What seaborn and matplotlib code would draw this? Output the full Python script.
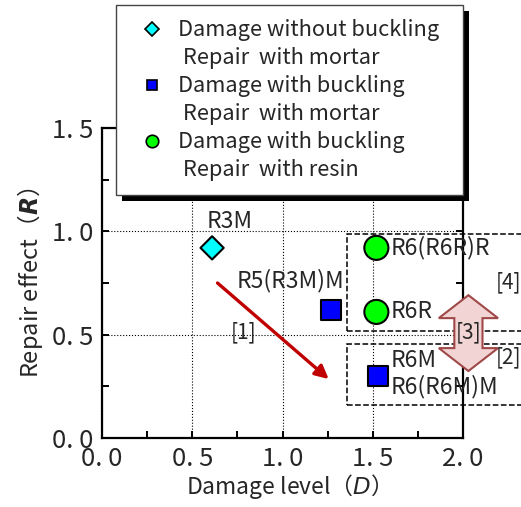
import pandas as pd
import seaborn as sns
import matplotlib.pyplot as plt
import matplotlib.patheffects as pe
from matplotlib.lines import Line2D
from matplotlib.patches import Rectangle, Polygon
from matplotlib.ticker import MultipleLocator

# measured points
damage = [0.61, 1.27, 1.53, 1.52, 1.52]
repair = [0.92, 0.62, 0.30, 0.92, 0.61]
groups = ['wo_buckling_mortar', 'buckling_mortar', 'buckling_mortar',
          'buckling_resin', 'buckling_resin']

group_order = ['wo_buckling_mortar', 'buckling_mortar', 'buckling_resin']
legend_line1 = ['Damage without buckling', 'Damage with buckling', 'Damage with buckling']
legend_line2 = [' Repair  with mortar', ' Repair  with mortar', ' Repair  with resin']
group_colors = ['#00FFFF', '#0000FF', '#00FF00']
group_markers = ['D', 's', 'o']
group_sizes = [140, 210, 300]
legend_msizes = [7, 7, 9]

# specimen labels
spec_labels = ['R3M', 'R5(R3M)M', 'R6M', 'R6(R6M)M', 'R6(R6R)R', 'R6R']
spec_x = [0.58, 0.745, 1.60, 1.60, 1.60, 1.60]
spec_y = [1.05, 0.76, 0.375, 0.25, 0.92, 0.61]

region_labels = ['[1]', '[2]', '[3]', '[4]']
region_x = [0.715, 2.18, 2.03, 2.18]
region_y = [0.51, 0.39, 0.51, 0.755]
region_ha = ['left', 'left', 'center', 'left']

xticks = [0.0, 0.5, 1.0, 1.5, 2.0]
yticks = [0.0, 0.5, 1.0, 1.5]

sns.set_style('ticks')
plt.rcParams['font.family'] = ['Noto Sans CJK JP', 'DejaVu Sans']
plt.rcParams['mathtext.fontset'] = 'dejavusans'

df = pd.DataFrame({'D': damage, 'R': repair, 'group': groups})

fig = plt.figure(figsize=(5.21, 5.07), dpi=100)
ax = fig.add_axes([102 / 521, 69 / 507, 361 / 521, 310 / 507])

sns.scatterplot(data=df, x='D', y='R', hue='group', style='group', size='group',
                hue_order=group_order, style_order=group_order, size_order=group_order,
                palette=dict(zip(group_order, group_colors)),
                markers=dict(zip(group_order, group_markers)),
                sizes=dict(zip(group_order, group_sizes)),
                edgecolor='black', linewidth=1.5, legend=False, zorder=5, ax=ax)

ax.set_xlim(0, 2.0)
ax.set_ylim(0, 1.5)
ax.set_xticks(xticks)
ax.set_yticks(yticks)
ax.set_xticklabels([f'{v:.1f}'.replace('.', '. ') for v in xticks])
ax.set_yticklabels([f'{v:.1f}'.replace('.', '. ') for v in yticks])
ax.xaxis.set_minor_locator(MultipleLocator(0.25))
ax.yaxis.set_minor_locator(MultipleLocator(0.25))
ax.tick_params(which='both', direction='in', length=5, width=1.4,
               top=True, right=True, labelsize=18.5, color='black')
ax.tick_params(axis='x', pad=6)
ax.tick_params(axis='y', pad=6)
for sp in ax.spines.values():
    sp.set_linewidth(1.6)
    sp.set_color('black')
ax.grid(True, which='major', linestyle=':', color='black', linewidth=0.8)

ax.set_xlabel('Damage level（$\\mathit{D}$）', fontsize=16.5, labelpad=0)
ax.set_ylabel('Repair effect（$\\mathbfit{R}$）', fontsize=17, labelpad=5)

for t, x, y in zip(spec_labels, spec_x, spec_y):
    ax.text(x, y, t, fontsize=16.5, ha='left', va='center', zorder=6)
for t, x, y, ha in zip(region_labels, region_x, region_y, region_ha):
    ax.text(x, y, t, fontsize=15, ha=ha, va='center', zorder=7, clip_on=False)

# trend arrow [1]
ax.annotate('', xy=(1.256, 0.285), xytext=(0.64, 0.75),
            arrowprops=dict(arrowstyle='-|>', color='#c00000', lw=2.4,
                            mutation_scale=20, shrinkA=0, shrinkB=0))

# dashed group boxes
ax.add_patch(Rectangle((1.36, 0.52), 1.2, 0.465, fill=False, linestyle='--',
                       edgecolor='black', linewidth=1.1, clip_on=False, zorder=3))
ax.add_patch(Rectangle((1.36, 0.16), 1.2, 0.294, fill=False, linestyle='--',
                       edgecolor='black', linewidth=1.1, clip_on=False, zorder=3))

# double arrow [3]
cx, top, bot, hw, sw, hl = 2.03, 0.691, 0.324, 0.164, 0.078, 0.111
verts = [(cx, top), (cx + hw, top - hl), (cx + sw, top - hl), (cx + sw, bot + hl),
         (cx + hw, bot + hl), (cx, bot), (cx - hw, bot + hl), (cx - sw, bot + hl),
         (cx - sw, top - hl), (cx - hw, top - hl)]
ax.add_patch(Polygon(verts, closed=True, facecolor='#f2d4d4', edgecolor='#a04848',
                     linewidth=1.5, clip_on=False, zorder=6))

handles, labels = [], []
for l1, l2, c, m, ms in zip(legend_line1, legend_line2, group_colors, group_markers, legend_msizes):
    handles.append(Line2D([], [], linestyle='none', marker=m, markersize=ms,
                          markerfacecolor=c, markeredgecolor='black', markeredgewidth=1.2))
    labels.append(l1)
    handles.append(Line2D([], [], linestyle='none'))
    labels.append(l2)

leg = ax.legend(handles, labels, loc='upper left', bbox_transform=fig.transFigure,
                bbox_to_anchor=(116 / 521, 0.2, 347 / 521, 502 / 507 - 0.2),
                mode='expand', fontsize=15.7, frameon=True, fancybox=False,
                edgecolor='#444444', framealpha=1, labelspacing=0.275,
                handletextpad=0.19, borderpad=0.65, borderaxespad=0, handlelength=2.0)
leg.set_zorder(20)
frame = leg.get_frame()
frame.set_linewidth(1.0)
# solid black drop shadow, about 6 px down and to the right
frame.set_path_effects([pe.SimplePatchShadow(offset=(4.3, -4.3), shadow_rgbFace='black',
                                             alpha=1.0),
                        pe.Normal()])

fig.savefig('out.png', dpi=100)
